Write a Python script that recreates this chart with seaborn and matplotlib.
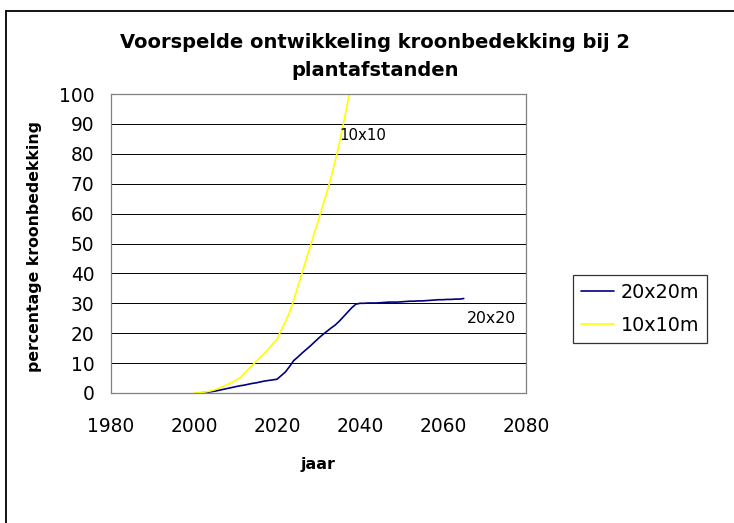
import numpy as np
import pandas as pd
import matplotlib
matplotlib.use("Agg")
import matplotlib.pyplot as plt
import seaborn as sns
from matplotlib.lines import Line2D

# ---- data ----
years_10 = list(range(2000, 2039))
cover_10 = [0.0, 0.1, 0.2, 0.4, 0.7, 1.1, 1.6, 2.2, 2.8, 3.5,
            4.2, 5.0, 6.3, 7.8, 9.2, 10.6, 12.0, 13.3, 14.8, 16.5,
            18.0, 21.0, 23.8, 27.0, 31.0, 35.5, 40.0, 44.5, 49.0, 53.5,
            58.0, 62.5, 67.0, 72.0, 77.5, 83.5, 90.0, 97.0, 104.0]

years_20 = list(range(2001, 2066))
cover_20 = [0.0, 0.1, 0.2, 0.4, 0.6, 0.9, 1.2, 1.5, 1.8, 2.1,
            2.4, 2.6, 2.9, 3.2, 3.4, 3.7, 4.0, 4.2, 4.4, 4.6,
            5.8, 7.0, 8.8, 10.8, 12.0, 13.3, 14.5, 15.7, 17.0, 18.3,
            19.5, 20.6, 21.7, 22.7, 24.0, 25.5, 27.0, 28.5, 29.7, 30.0,
            30.0, 30.1, 30.1, 30.1, 30.2, 30.3, 30.4, 30.4, 30.4, 30.5,
            30.6, 30.7, 30.7, 30.8, 30.8, 30.9, 31.0, 31.1, 31.2, 31.2,
            31.3, 31.3, 31.4, 31.4, 31.6]

series_labels = ["20x20m", "10x10m"]
series_colors = ["#000080", "#FFFF00"]
x_ticks = [1980, 2000, 2020, 2040, 2060, 2080]
y_ticks = list(range(0, 101, 10))

title = "Voorspelde ontwikkeling kroonbedekking bij 2\nplantafstanden"
xlabel = "jaar"
ylabel = "percentage kroonbedekking"

df = pd.concat([
    pd.DataFrame({"jaar": years_20, "pct": cover_20, "serie": series_labels[0]}),
    pd.DataFrame({"jaar": years_10, "pct": cover_10, "serie": series_labels[1]}),
], ignore_index=True)

sns.set_style("white")
plt.rcParams["font.family"] = ["DejaVu Sans"]
plt.rcParams["text.color"] = "black"

W, H = 734, 523
fig = plt.figure(figsize=(W / 100, H / 100), dpi=100)
ax = fig.add_axes([111 / W, 1 - 393 / H, (526 - 111) / W, (393 - 94) / H])

sns.lineplot(data=df, x="jaar", y="pct", hue="serie", palette=series_colors,
             hue_order=series_labels, ax=ax, linewidth=1.2, legend=False,
             estimator=None, sort=False)

ax.set_xlim(1980, 2080)
ax.set_ylim(0, 100)
ax.set_xticks(x_ticks)
ax.set_yticks(y_ticks)
ax.tick_params(axis="both", labelsize=13.4, direction="out", length=4,
               width=0.8, color="#808080", labelcolor="black")
ax.tick_params(axis="x", pad=13)
ax.tick_params(axis="y", pad=8)
ax.yaxis.grid(True, color="#000000", linewidth=0.7)
ax.xaxis.grid(False)
ax.set_axisbelow(True)
for s in ax.spines.values():
    s.set_color("#808080")
    s.set_linewidth(0.9)
    s.set_visible(True)

ax.set_xlabel("")
ax.set_ylabel("")
fig.text(318 / W, 1 - 464 / H, xlabel, ha="center", va="center",
         fontsize=11.5, fontweight="bold", color="black")
fig.text(35 / W, 1 - 247 / H, ylabel, ha="center", va="center",
         rotation=90, fontsize=11.3, fontweight="bold", color="black")
fig.text(375 / W, 1 - 57 / H, title, ha="center", va="center",
         fontsize=14.0, fontweight="bold", linespacing=1.6, color="black")

ax.text(2034.9, 86, "10x10", ha="left", va="center", fontsize=10.8,
        color="black")
ax.text(2065.8, 25, "20x20", ha="left", va="center", fontsize=11.3,
        color="black")

handles = [Line2D([0], [0], color=c, lw=1.2) for c in series_colors]
leg = ax.legend(handles, series_labels, loc="upper left",
                bbox_to_anchor=(573 / W, 1 - 275 / H),
                bbox_transform=fig.transFigure, borderaxespad=0,
                fontsize=13.8, frameon=True, fancybox=False,
                handlelength=1.75, handletextpad=0.35, labelspacing=0.75,
                borderpad=0.4)
leg.get_frame().set_edgecolor("#000000")
leg.get_frame().set_linewidth(0.9)
for t in leg.get_texts():
    t.set_color("black")

# outer chart frame (left and top edges visible)
fig.add_artist(Line2D([5.5 / W, 5.5 / W], [0, 1 - 10.5 / H],
                      transform=fig.transFigure, color="#000000", lw=1.3))
fig.add_artist(Line2D([5.5 / W, 1], [1 - 10.5 / H, 1 - 10.5 / H],
                      transform=fig.transFigure, color="#000000", lw=1.3))

fig.savefig("out.png", dpi=100)
